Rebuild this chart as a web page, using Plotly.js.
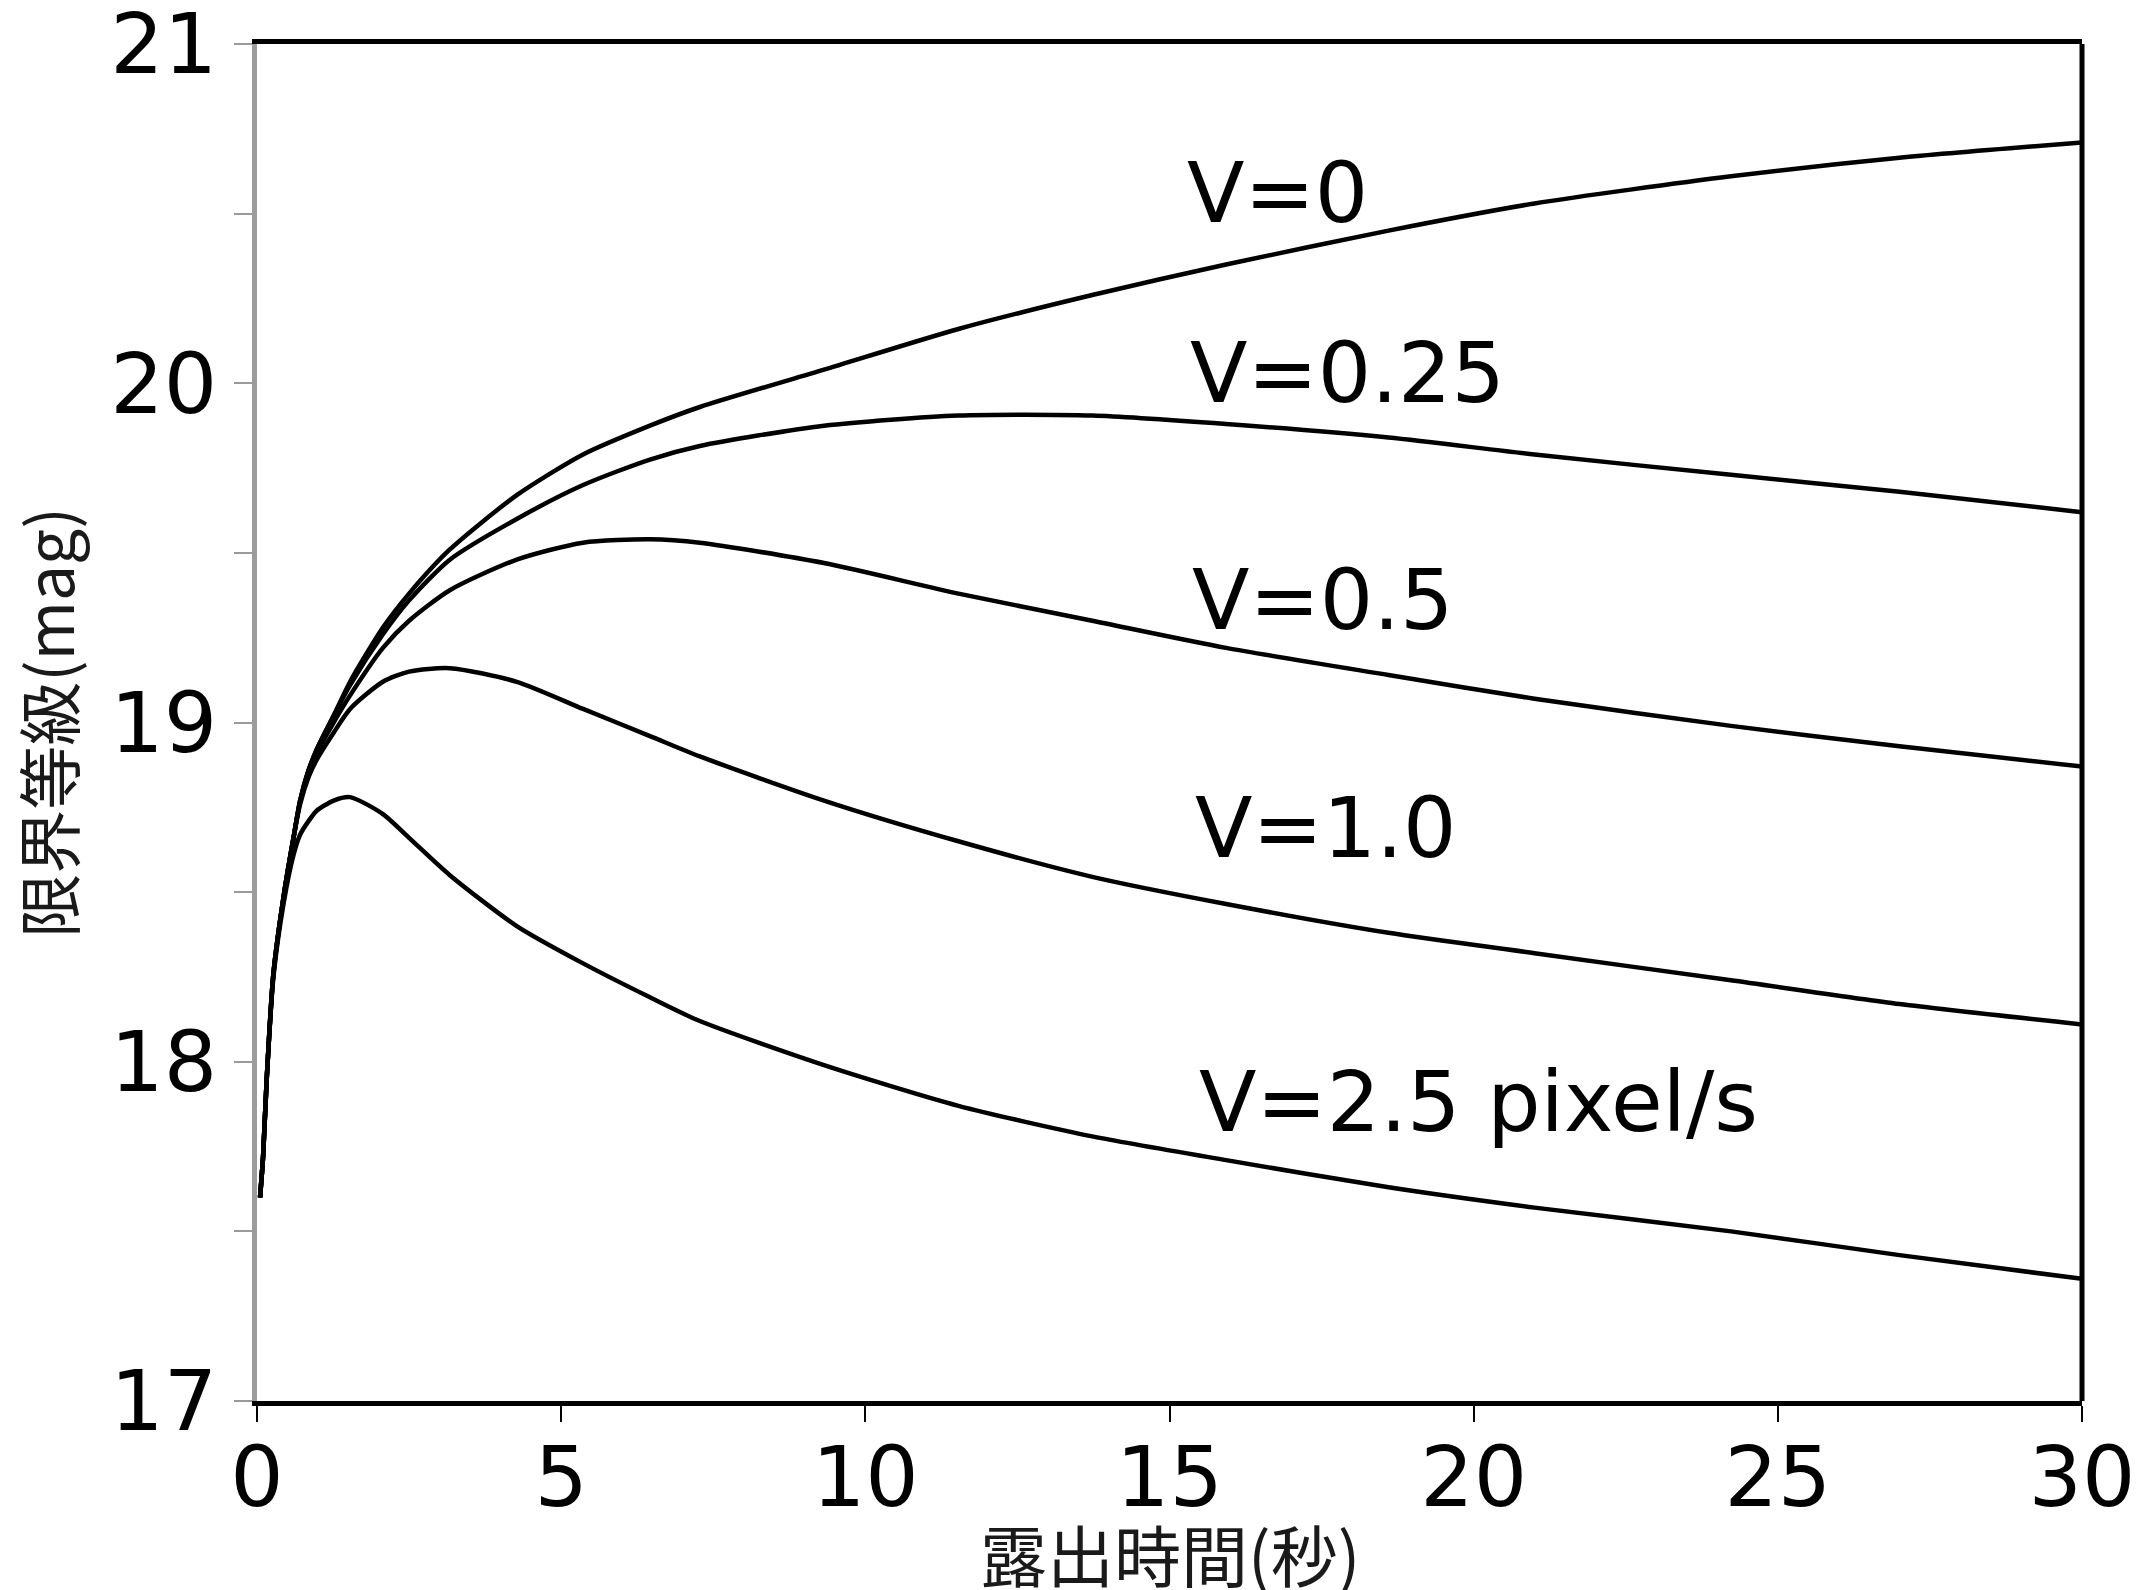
<!DOCTYPE html>
<html>
<head>
<meta charset="utf-8">
<script src="https://cdn.plot.ly/plotly-3.0.1.min.js"></script>
<style>html,body{margin:0;padding:0;background:#fff;}#chart{width:2143px;height:1590px;}</style>
</head>
<body>
<div id="chart"></div>
<script>
// Exposure time (s)
const exposure = [0.05, 0.1, 0.16, 0.27, 0.44, 0.6, 0.71, 0.85, 0.98, 1.26, 1.53, 2.07, 2.5, 3.17, 4.27, 5.36, 6.46, 7.28, 9.32, 11.53, 13.73, 15.93, 18.6, 21, 24.23, 27, 30];
// Limiting magnitude for each trailing speed
const magV0   = [17.60, 17.72, 17.95, 18.26, 18.49, 18.66, 18.77, 18.86, 18.92, 19.02, 19.12, 19.28, 19.38, 19.51, 19.67, 19.79, 19.875, 19.93, 20.04, 20.16, 20.26, 20.35, 20.45, 20.53, 20.61, 20.665, 20.71];
const magV025 = [17.60, 17.72, 17.95, 18.26, 18.49, 18.66, 18.77, 18.86, 18.92, 19.02, 19.11, 19.26, 19.36, 19.48, 19.60, 19.70, 19.775, 19.815, 19.875, 19.905, 19.905, 19.88, 19.84, 19.79, 19.73, 19.68, 19.62];
const magV05  = [17.60, 17.72, 17.95, 18.26, 18.49, 18.66, 18.77, 18.86, 18.91, 19.00, 19.08, 19.22, 19.30, 19.39, 19.48, 19.53, 19.54, 19.53, 19.47, 19.38, 19.30, 19.22, 19.14, 19.07, 18.99, 18.93, 18.87];
const magV1   = [17.60, 17.72, 17.95, 18.26, 18.49, 18.66, 18.76, 18.84, 18.89, 18.97, 19.04, 19.12, 19.15, 19.16, 19.12, 19.04, 18.96, 18.90, 18.77, 18.65, 18.545, 18.465, 18.38, 18.32, 18.24, 18.17, 18.11];
const magV25  = [17.60, 17.72, 17.95, 18.25, 18.47, 18.61, 18.67, 18.71, 18.74, 18.77, 18.78, 18.73, 18.66, 18.55, 18.40, 18.29, 18.19, 18.12, 17.99, 17.87, 17.78, 17.71, 17.63, 17.57, 17.50, 17.43, 17.36];

const seriesNames = ['V=0', 'V=0.25', 'V=0.5', 'V=1.0', 'V=2.5 pixel/s'];
const seriesValues = [magV0, magV025, magV05, magV1, magV25];

// Curve labels (text and anchor positions in data units)
const labelText = ['V=0', 'V=0.25', 'V=0.5', 'V=1.0', 'V=2.5 pixel/s'];
const labelX = [15.25, 15.3, 15.33, 15.38, 15.45];
const labelY = [20.56, 20.03, 19.36, 18.69, 17.88];

// Axis titles
const xTitleText = '露出時間(秒)';
const yTitleText = '限界等級(mag)';

// Ticks
const xTickVals = [0, 5, 10, 15, 20, 25, 30];
const yTickVals = [17, 17.5, 18, 18.5, 19, 19.5, 20, 20.5, 21];
const yTickText = ['17', '', '18', '', '19', '', '20', '', '21'];

const traces = seriesValues.map((vals, i) => ({
  type: 'scatter',
  mode: 'lines',
  name: seriesNames[i],
  x: exposure,
  y: vals,
  line: {color: '#000000', width: 4.5, shape: 'spline', smoothing: 0.7},
  hoverinfo: 'x+y+name'
}));

const numFont = {family: 'DejaVu Sans', size: 84, color: '#000000'};
const yTitleFont = {family: 'Noto Sans CJK JP', size: 64, color: '#1a1a1a'};
const xTitleFont = {family: 'Noto Sans CJK JP', size: 67, color: '#1a1a1a'};

const annotations = labelText.map((t, i) => ({
  text: t, x: labelX[i], y: labelY[i], xref: 'x', yref: 'y',
  xanchor: 'left', yanchor: 'middle', showarrow: false, font: numFont
}));
// x-axis title placed as a paper annotation so it can sit low like the reference
annotations.push({
  text: xTitleText, xref: 'paper', yref: 'paper', x: 0.5, y: -0.112,
  xanchor: 'center', yanchor: 'middle', showarrow: false, font: xTitleFont
});

const layout = {
  width: 2143, height: 1590,
  margin: {l: 257, r: 61, t: 44, b: 189, pad: 0},
  paper_bgcolor: '#ffffff', plot_bgcolor: '#ffffff',
  showlegend: false,
  xaxis: {
    range: [0, 30], tickvals: xTickVals, ticks: 'outside', ticklen: 16, tickwidth: 2, tickcolor: '#000000',
    showline: true, linecolor: '#000000', linewidth: 5, mirror: true,
    showgrid: false, zeroline: false, tickfont: numFont, ticklabelstandoff: -17, ticklabeloverflow: 'allow'
  },
  yaxis: {
    range: [17, 21], tickvals: yTickVals, ticktext: yTickText, ticks: 'outside', ticklen: 18, tickwidth: 2, tickcolor: '#9a9a9a',
    showline: true, linecolor: '#9c9c9c', linewidth: 5, mirror: false,
    showgrid: false, zeroline: false, tickfont: numFont, ticklabelstandoff: 0, ticklabeloverflow: 'allow',
    title: {text: yTitleText, font: yTitleFont, standoff: 40}
  },
  shapes: [
    {type: 'line', xref: 'paper', yref: 'paper', x0: 1, x1: 1, y0: 0, y1: 1, line: {color: '#000000', width: 5}}
  ],
  annotations: annotations
};

Plotly.newPlot('chart', traces, layout, {staticPlot: true, displayModeBar: false});
</script>
</body>
</html>
